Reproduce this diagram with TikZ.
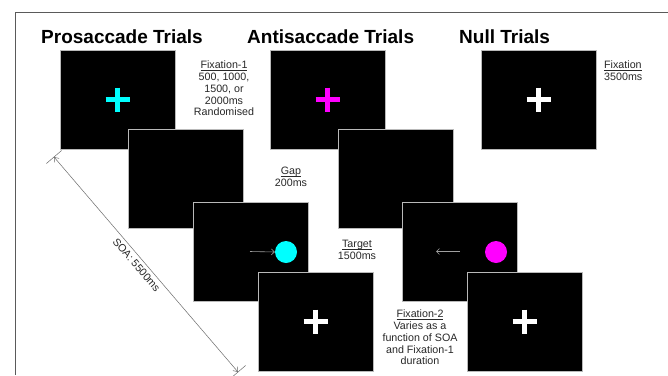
\documentclass[tikz,border=0pt]{standalone}
\usepackage{fontspec}
\setmainfont{Liberation Sans}
\usetikzlibrary{arrows.meta,calc}
\definecolor{cyanx}{RGB}{0,255,255}
\definecolor{magx}{RGB}{255,0,255}
\definecolor{framec}{RGB}{90,90,90}
\definecolor{txt}{RGB}{40,40,40}
\newcommand\myul[1]{\setbox0\hbox{#1}\rlap{\rule[-1.4pt]{\wd0}{0.5pt}}\box0}
\begin{document}
\begin{tikzpicture}[x=1pt,y=-1pt,
 screen/.style={fill=black,draw=gray!55,line width=0.7pt,minimum width=115pt,minimum height=99pt,inner sep=0pt,outer sep=0pt},
 title/.style={font=\fontsize{19}{22}\selectfont\bfseries,anchor=base west,inner sep=0pt},
 lbl/.style={font=\fontsize{10.7}{11.75}\selectfont,align=center,text=txt,inner sep=0pt},
 cue/.style={draw=gray!75,line width=0.6pt,-{Straight Barb[length=3pt,width=6pt]}},
 dot/.style={circle,minimum size=22pt,inner sep=0pt},
 soa/.style={draw=gray!85!black,line width=0.5pt,{Straight Barb[length=4pt,width=6pt]}-{Straight Barb[length=4pt,width=6pt]}},
 tick/.style={draw=gray!85!black,line width=0.5pt},
 pics/pluscross/.style={code={\draw[line width=5pt,#1] (-12,0) -- (12,0) (0,-12) -- (0,12);}}]

\useasboundingbox (0,0) rectangle (668,375);
\fill[white] (0,0) rectangle (668,375);
\draw[framec, line width=0.8pt] (15,375) -- (15,12) -- (668,12);

% titles
\node[title] (tP) at (41,43) {Prosaccade Trials};
\node[title] (tA) at (247,43) {Antisaccade Trials};
\node[title] (tN) at (459,43) {Null Trials};

% prosaccade screens
\node[screen] (P1) at (117.5,99.5) {};
\pic at (P1) {pluscross=cyanx};
\node[screen] (P2) at (186,178.5) {};
\node[screen] (P3) at (250.5,251.5) {};
\node[dot,fill=cyanx] (Pdot) at (286,252) {};
\coordinate (Pcue) at (250,251.5);
\draw[cue] (Pcue) -- (Pdot.west);
\node[screen] (P4) at (315.5,321.5) {};
\pic at (P4) {pluscross=white};

% antisaccade screens
\node[screen] (A1) at (327.5,99.5) {};
\pic at (A1) {pluscross=magx};
\node[screen] (A2) at (395.5,178.5) {};
\node[screen] (A3) at (460,251.5) {};
\node[dot,fill=magx] (Adot) at (496,252) {};
\coordinate (Acs) at (460,251.5);
\coordinate (Ace) at (436,251.5);
\draw[cue] (Acs) -- (Ace);
\node[screen] (A4) at (524.5,321.5) {};
\pic at (A4) {pluscross=white};

% null
\node[screen] (N1) at (538.5,99.5) {};
\pic at (N1) {pluscross=white};

% labels
\node[lbl] (L1) at (224,88.5) {\myul{Fixation-1}\\500, 1000,\\1500, or\\2000ms\\Randomised};
\node[lbl] (L2) at (291,177) {\myul{Gap}\\200ms};
\node[lbl] (L3) at (357,250) {\myul{Target}\\1500ms};
\node[lbl] (L4) at (420,337.5) {\myul{Fixation-2}\\Varies as a\\function of SOA\\and Fixation-1\\duration};
\node[lbl,align=left,anchor=west] (L5) at (604,71) {\myul{Fixation}\\3500ms};

% SOA arrow
\coordinate (soaA) at (54,157);
\coordinate (soaB) at (238,372);
\draw[soa] (soaA) -- node[sloped,below=3.5pt,pos=0.48,lbl] {SOA: 5500ms} (soaB);
\draw[tick] ($(soaA)!10pt!90:(soaB)$) -- ($(soaA)!10pt!-90:(soaB)$);
\draw[tick] ($(soaB)!10pt!90:(soaA)$) -- ($(soaB)!10pt!-90:(soaA)$);
\end{tikzpicture}
\end{document}
